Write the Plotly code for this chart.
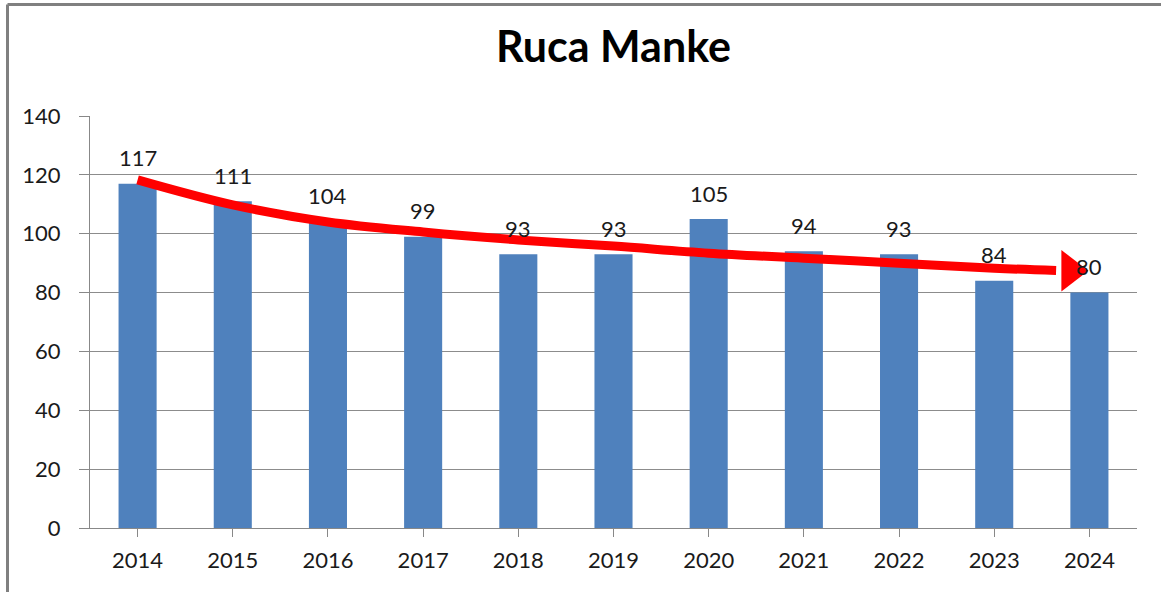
import plotly.graph_objects as go

years = ["2014", "2015", "2016", "2017", "2018", "2019", "2020", "2021", "2022", "2023", "2024"]
counts = [117, 111, 104, 99, 93, 93, 105, 94, 93, 84, 80]

# hand-drawn red trend arrow (category index, value)
trend_x = [0, 1, 2, 3, 4, 5, 6, 7, 8, 9, 9.65]
trend_y = [118.3, 109.8, 104.0, 100.6, 97.9, 95.8, 93.4, 91.7, 90.0, 88.3, 87.5]
arrow_tip_x = [9.8]
arrow_tip_y = [87.4]

y_ticks = [0, 20, 40, 60, 80, 100, 120, 140]

FONT = "Lato, 'Open Sans', sans-serif"
TXT = "#1a1a1a"
idx = list(range(len(years)))

fig = go.Figure()
fig.add_trace(go.Bar(
    x=idx, y=counts, width=0.4,
    marker=dict(color="#4F81BD", line=dict(width=0)),
    showlegend=False,
))
fig.add_trace(go.Scatter(
    x=trend_x, y=trend_y, mode="lines",
    line=dict(color="#FF0000", width=9, shape="spline", smoothing=1.0),
    showlegend=False, hoverinfo="skip",
))
fig.add_trace(go.Scatter(
    x=arrow_tip_x, y=arrow_tip_y, mode="markers",
    marker=dict(symbol="triangle-right", size=36, color="#FF0000", line=dict(width=0)),
    showlegend=False, hoverinfo="skip",
))

# data labels above the bars
for i, v in zip(idx, counts):
    fig.add_annotation(
        x=i, y=v, xref="x", yref="y", text=str(v), showarrow=False,
        yanchor="middle", xanchor="center", yshift=26,
        font=dict(size=22, family=FONT, color=TXT),
    )

fig.update_layout(
    width=1161, height=592,
    margin=dict(l=90, r=24, t=116, b=64),
    paper_bgcolor="white", plot_bgcolor="white",
    font=dict(family=FONT, size=22, color=TXT),
    title=dict(
        text="<b>Ruca Manke</b>", x=0.5, xref="paper", xanchor="center",
        y=1 - 47 / 592, yref="container", yanchor="middle",
        font=dict(size=43, family=FONT, color="#000000"),
    ),
)
# outer frame: only the left and top edges are visible in the reference
fx0 = (7.5 - 90) / 1047
fy1 = 1 + (116 - 4.5) / 412
fig.add_shape(type="line", xref="x domain", yref="y domain",
              x0=fx0, x1=fx0, y0=-0.3, y1=fy1,
              line=dict(color="#808080", width=3), layer="below")
fig.add_shape(type="line", xref="x domain", yref="y domain",
              x0=fx0, x1=1.1, y0=fy1, y1=fy1,
              line=dict(color="#808080", width=3), layer="below")

fig.update_xaxes(
    range=[-0.5, 10.5], tickmode="array", tickvals=idx, ticktext=years,
    showline=True, linecolor="#888888", linewidth=1,
    ticks="outside", tickson="boundaries", ticklen=8, tickcolor="#888888",
    ticklabelstandoff=5,
    showgrid=False, tickfont=dict(size=22, family=FONT, color=TXT),
    fixedrange=True,
)
fig.update_yaxes(
    range=[0, 140], tickmode="array", tickvals=y_ticks,
    showline=True, linecolor="#888888", linewidth=1,
    ticks="outside", ticklen=10, tickcolor="#888888",
    ticklabelstandoff=14,
    showgrid=True, gridcolor="#8C8C8C", gridwidth=1, zeroline=False,
    tickfont=dict(size=22, family=FONT, color=TXT),
    fixedrange=True,
)

fig.write_html("out.html", config={"displayModeBar": False},
               post_script="document.body.style.margin='0';")
